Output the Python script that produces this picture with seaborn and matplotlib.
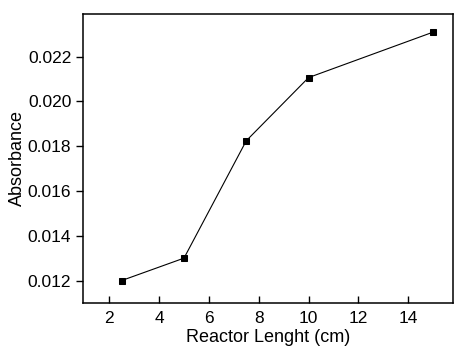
import pandas as pd
import matplotlib
matplotlib.use("Agg")
import matplotlib.pyplot as plt
import seaborn as sns

# Data
reactor_length = [2.5, 5.0, 7.5, 10.0, 15.0]
absorbance = [0.0120, 0.0130, 0.01824, 0.02106, 0.02309]
x_ticks = [2, 4, 6, 8, 10, 12, 14]
y_ticks = [0.012, 0.014, 0.016, 0.018, 0.020, 0.022]

df = pd.DataFrame({"length": reactor_length, "absorbance": absorbance})

sns.set_style("ticks", {"text.color": "black", "axes.labelcolor": "black",
                        "xtick.color": "black", "ytick.color": "black",
                        "axes.edgecolor": "black"})
plt.rcParams['font.family'] = ['Liberation Sans', 'DejaVu Sans']

fig = plt.figure(figsize=(4.54, 3.49), dpi=100)
ax = fig.add_axes([0.183, 0.132, 0.815, 0.828])

sns.lineplot(data=df, x="length", y="absorbance", color="black", linewidth=0.8,
             marker="s", markersize=5, markeredgecolor="black", ax=ax)

ax.set_xlim(0.95, 15.8)
ax.set_ylim(0.011, 0.0239)
ax.set_xticks(x_ticks)
ax.set_yticks(y_ticks)
ax.set_yticklabels([f"{v:.3f}" for v in y_ticks])
ax.tick_params(axis="x", direction="in", length=5, width=1, labelsize=12.5, pad=6)
ax.tick_params(axis="y", direction="out", length=5, width=1, labelsize=12.5)
for s in ax.spines.values():
    s.set_linewidth(1.1)
    s.set_color("black")

ax.set_xlabel("Reactor Lenght (cm)", fontsize=13, labelpad=2)
ax.set_ylabel("Absorbance", fontsize=13, labelpad=1)

fig.savefig("out.png", dpi=100)
